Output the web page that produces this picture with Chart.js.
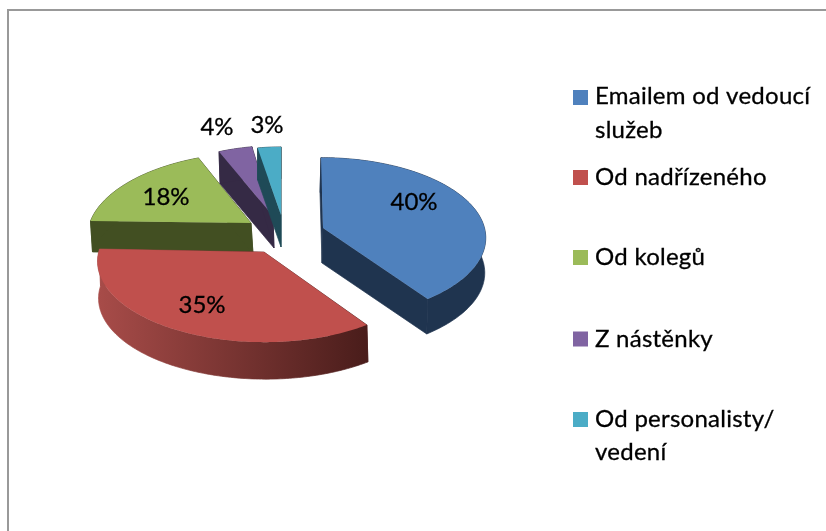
<!DOCTYPE html>
<html><head><meta charset="utf-8">
<style>html,body{margin:0;padding:0;background:#fff}canvas{display:block;filter:blur(0.4px)}</style>
<script src="https://cdn.jsdelivr.net/npm/chart.js@4/dist/chart.umd.min.js"></script>
</head><body><canvas id="c" width="826" height="531"></canvas>
<script>
const categories = ['Emailem od vedoucí služeb','Od nadřízeného','Od kolegů','Z nástěnky','Od personalisty/ vedení'];
const legendLines = [['Emailem od vedoucí','služeb'],['Od nadřízeného'],['Od kolegů'],['Z nástěnky'],['Od personalisty/','vedení']];
const shares = [40,35,18,4,3];
const topColors = ['#4f81bd','#c0504d','#9bbb59','#8064a2','#4bacc6'];
const sideColors = ['#1f344f','#4a1d1b','#424f22','#352a45','#1f4a57'];

// layout of the exploded 3D view (one entry per slice)
const FONT = '24px Lato, Carlito, sans-serif';
const view = [
  {ax:323,ay:228,ox:-2,rx:163.5,ry:79,skew:0,tilt:0,depth:35,ddx:-1},
  {ax:264,ay:252,ox:0,rx:164.5,ry:79,skew:-5,tilt:3,depth:37,ddx:1},
  {ax:251,ay:223,ox:0,rx:160.5,ry:79,skew:-11,tilt:2,depth:31,ddx:2},
  {ax:273,ay:216,ox:0,rx:151,ry:79,skew:-4.8,tilt:0,depth:32,ddx:1},
  {ax:281,ay:215,ox:0,rx:140,ry:76.5,skew:0,tilt:0,depth:32,ddx:0}
];
const PERSP = 0.123;
const labelPos = [[414,202],[202,305],[166,197],[217,127],[267,125]];
const legendSwatchY = [90,170,250,331.5,412];
const legendBase = [[104,138],[185],[265],[347],[427,460]];
const drawOrder = [2,3,4,0,1];

function project(v,theta){
  const a=Math.sin(theta), b=-Math.cos(theta), s=1/(1-PERSP*b);
  return [v.ax+v.ox+(v.rx*a+v.skew*b)*s, v.ay+(v.ry*b+v.tilt*a)*s];
}
function arcPoints(v,start,end){
  const pts=[], n=Math.max(8,Math.ceil((end-start)*60));
  for(let k=0;k<=n;k++) pts.push(project(v,start+(end-start)*k/n));
  return pts;
}
function fillPoly(c,pts,stroke){
  c.beginPath();
  pts.forEach((p,k)=>k?c.lineTo(p[0],p[1]):c.moveTo(p[0],p[1]));
  c.closePath(); c.fill();
  if(stroke) c.stroke();
}
const pie3d = {
  id:'pie3d',
  beforeDraw(chart){
    const c=chart.ctx; c.save();
    c.fillStyle='#fff'; c.fillRect(0,0,chart.width,chart.height);
    c.fillStyle='#999'; c.fillRect(7,9,chart.width-7,2); c.fillRect(7,9,2,chart.height-9);
    c.restore();
  },
  beforeDatasetsDraw(chart){
    const c=chart.ctx, arcs=chart.getDatasetMeta(0).data;
    c.save();
    drawOrder.forEach(i=>{
      const v=view[i], arc=arcs[i];
      const rim=arcPoints(v,arc.startAngle+Math.PI/2,arc.endAngle+Math.PI/2);
      const apex=[v.ax,v.ay];
      const down=p=>[p[0]+v.ddx,p[1]+v.depth];
      const first=rim[0], last=rim[rim.length-1];
      let side=sideColors[i];
      if(i===1){
        const g=c.createLinearGradient(97,0,366,0);
        g.addColorStop(0,'#a84c49'); g.addColorStop(1,'#4a1d1b'); side=g;
      }
      c.fillStyle=side; c.strokeStyle=side; c.lineWidth=0.7; c.lineJoin='round';
      fillPoly(c,[apex,first,down(first),down(apex)],true);
      fillPoly(c,[apex,last,down(last),down(apex)],true);
      fillPoly(c,rim.concat(rim.slice().reverse().map(down)),true);
      c.fillStyle=topColors[i];
      fillPoly(c,[apex].concat(rim));
    });
    c.restore();
    return false;
  },
  afterDraw(chart){
    const c=chart.ctx, vals=chart.data.datasets[0].data, total=vals.reduce((a,b)=>a+b,0);
    c.save();
    c.font=FONT; c.fillStyle='#000'; c.strokeStyle='#000'; c.lineWidth=0.3;
    c.textAlign='center'; c.textBaseline='middle';
    vals.forEach((val,i)=>{
      const t=Math.round(val/total*100)+'%';
      c.fillText(t,labelPos[i][0],labelPos[i][1]);
      c.strokeText(t,labelPos[i][0],labelPos[i][1]);
    });
    c.textAlign='left'; c.textBaseline='alphabetic'; c.letterSpacing='0.25px';
    legendLines.forEach((lines,i)=>{
      c.fillStyle=topColors[i]; c.fillRect(573,legendSwatchY[i],15,15);
      c.fillStyle='#000';
      lines.forEach((t,j)=>{
        c.fillText(t,595,legendBase[i][j]);
        c.strokeText(t,595,legendBase[i][j]);
      });
    });
    c.restore();
  }
};
new Chart(document.getElementById('c'),{
  type:'pie',
  data:{labels:categories,datasets:[{data:shares,backgroundColor:topColors,borderWidth:0}]},
  options:{responsive:false,animation:false,
    plugins:{legend:{display:false},tooltip:{enabled:false}}},
  plugins:[pie3d]
});
</script></body></html>
